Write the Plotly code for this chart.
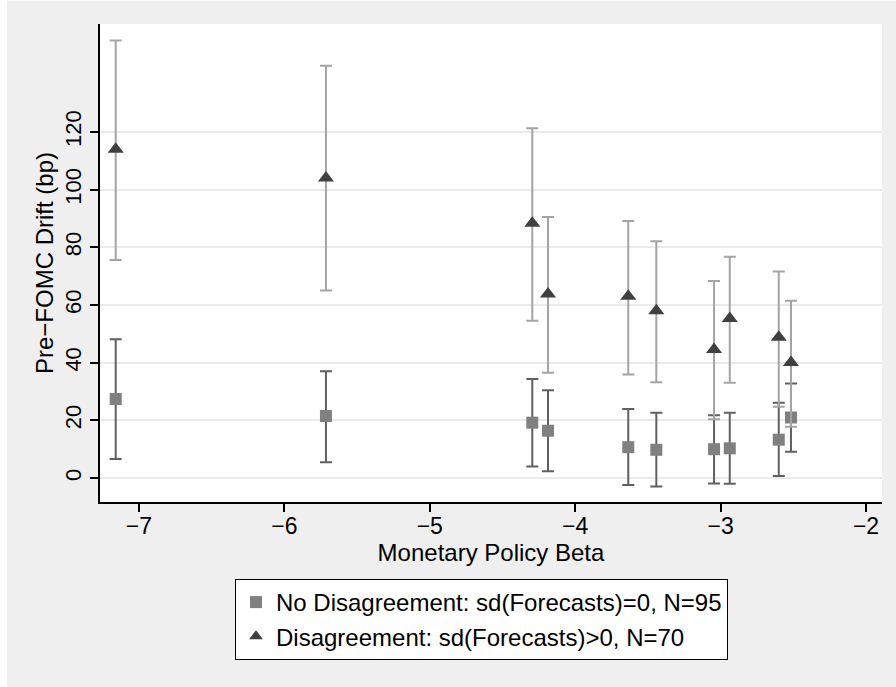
import plotly.graph_objects as go

# Monetary policy beta (x positions)
beta = [-7.16, -5.714, -4.295, -4.187, -3.635, -3.442, -3.045, -2.937, -2.60, -2.516]

# No disagreement group: point estimate and CI
nodis_y = [27.4, 21.5, 19.2, 16.4, 10.7, 9.8, 10.0, 10.3, 13.3, 21.0]
nodis_hi = [48.1, 37.0, 34.3, 30.4, 23.9, 22.6, 21.8, 22.6, 26.1, 32.8]
nodis_lo = [6.6, 5.5, 4.0, 2.4, -2.4, -2.9, -1.9, -2.0, 0.7, 9.1]

# Disagreement group: point estimate and CI
dis_y = [114.0, 104.0, 88.3, 63.8, 63.0, 58.0, 44.6, 55.3, 48.8, 40.1]
dis_hi = [151.7, 142.9, 121.3, 90.5, 89.1, 82.1, 68.3, 76.7, 71.6, 61.5]
dis_lo = [75.6, 65.0, 54.5, 36.5, 35.9, 33.2, 20.4, 33.0, 24.7, 17.8]

y_ticks = [0, 20, 40, 60, 80, 100, 120]
x_ticks = [-7, -6, -5, -4, -3, -2]

FONT = "Liberation Sans"

fig = go.Figure()

fig.add_trace(go.Scatter(
    x=beta, y=nodis_y, mode="markers",
    name="No Disagreement: sd(Forecasts)=0, N=95",
    marker=dict(symbol="square", size=12, color="#808080"),
    error_y=dict(type="data", symmetric=False,
                 array=[h - v for h, v in zip(nodis_hi, nodis_y)],
                 arrayminus=[v - l for v, l in zip(nodis_y, nodis_lo)],
                 color="#606060", thickness=2, width=6),
))

fig.add_trace(go.Scatter(
    x=beta, y=dis_y, mode="markers",
    name="Disagreement: sd(Forecasts)>0, N=70",
    marker=dict(symbol="triangle-up", size=14, color="#404040"),
    error_y=dict(type="data", symmetric=False,
                 array=[h - v for h, v in zip(dis_hi, dis_y)],
                 arrayminus=[v - l for v, l in zip(dis_y, dis_lo)],
                 color="#A4A4A4", thickness=2, width=6),
))

W, H = 896, 687
ML, MR, MT, MB = 100, 14, 24, 185
pw, ph = W - ML - MR, H - MT - MB

fig.update_layout(
    width=W, height=H,
    margin=dict(l=ML, r=MR, t=MT, b=MB, pad=0),
    paper_bgcolor="#EFEFEF",
    plot_bgcolor="white",
    font=dict(family=FONT, size=24, color="black"),
    showlegend=True,
    legend=dict(
        x=(235 - ML) / pw, y=(H - MB - 579) / ph,
        xanchor="left", yanchor="top",
        bgcolor="white", bordercolor="black", borderwidth=1,
        font=dict(family=FONT, size=24, color="black"),
        itemsizing="constant",
        tracegroupgap=0,
    ),
    xaxis=dict(
        range=[-7.268, -1.89],
        tickvals=x_ticks,
        ticks="outside", ticklen=8, tickwidth=1.5, tickcolor="black",
        showline=True, linecolor="black", linewidth=1.5,
        showgrid=False, zeroline=False,
        ticklabelstandoff=-5,
        title=dict(text="Monetary Policy Beta", standoff=4, font=dict(size=24)),
        tickfont=dict(size=23),
    ),
    yaxis=dict(
        range=[-8.3, 157.4],
        tickvals=y_ticks,
        tickangle=-90,
        ticks="outside", ticklen=8, tickwidth=1.5, tickcolor="black",
        showline=True, linecolor="black", linewidth=1.5,
        showgrid=True, gridcolor="#EAEAEA", gridwidth=1.5,
        zeroline=False,
        title=dict(text="Pre\u2212FOMC Drift (bp)", standoff=1, font=dict(size=24)),
        tickfont=dict(size=22),
    ),
    shapes=[
        dict(type="rect", xref="paper", yref="paper",
             x0=-ML / pw - 0.01, x1=-(ML - 7) / pw, y0=-MB / ph - 0.01, y1=1 + MT / ph + 0.01,
             fillcolor="white", line=dict(width=0), layer="below"),
        dict(type="rect", xref="paper", yref="paper",
             x0=-ML / pw - 0.01, x1=1 + MR / pw + 0.01, y0=1 + (MT - 1) / ph, y1=1 + MT / ph + 0.01,
             fillcolor="white", line=dict(width=0), layer="below"),
    ],
)

fig.write_html("out.html", config={"displayModeBar": False},
               post_script="document.body.style.margin='0px';")
